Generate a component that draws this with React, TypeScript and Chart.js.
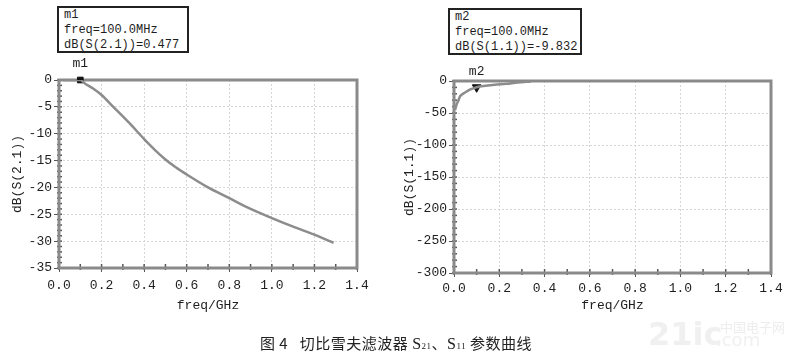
import React, { useEffect, useRef } from "react";
import { Chart, registerables } from "chart.js";
Chart.register(...registerables);

// ---- Data ----
const s21Freq = [0.02, 0.06, 0.1, 0.12, 0.16, 0.2, 0.255, 0.33, 0.4, 0.45, 0.5, 0.55, 0.6, 0.7, 0.8, 0.9, 1.0, 1.1, 1.2, 1.29];
const s21Db = [0, 0, 0, -0.6, -1.6, -2.8, -5, -8, -11, -13, -14.8, -16.3, -17.6, -20, -22, -24, -25.7, -27.3, -28.8, -30.3];

const s11Freq = [0.005, 0.012, 0.019, 0.026, 0.035, 0.049, 0.07, 0.1, 0.14, 0.18, 0.23, 0.28, 0.34];
const s11Db = [-45, -36, -31, -24.5, -21, -18, -13.5, -9.8, -7.5, -5.8, -4.5, -2.5, -0.8];

const m1Freq = 0.1;
const m1Db = 0;
const m2Freq = 0.1;
const m2Db = -9.832;

const xTicks = [0, 0.2, 0.4, 0.6, 0.8, 1.0, 1.2, 1.4];
const s21Ticks = [0, -5, -10, -15, -20, -25, -30, -35];
const s11Ticks = [0, -50, -100, -150, -200, -250, -300];

const m1Lines = ["m1", "freq=100.0MHz", "dB(S(2.1))=0.477"];
const m2Lines = ["m2", "freq=100.0MHz", "dB(S(1.1))=-9.832"];
const captionMain = "切比雪夫滤波器";

const MONO = '"Liberation Mono", "DejaVu Sans Mono", monospace';
const LINE = "#8c8c8c";
const FRAME = "#8a8a8a";
const GRID = "#d6d6d6";
const TEXT = "#1e1e1e";

type Cfg = {
  width: number;
  height: number;
  left: number;
  right: number;
  top: number;
  bottom: number;
  yMin: number;
  yTicks: number[];
  yMinor: number;
  yTitle: string;
  yTitlePad: number;
  xLabelPad: number;
  freq: number[];
  db: number[];
  markFreq: number;
  markDb: number;
  markLabel: string;
  markStyle: "rect" | "triangle";
};

function framePlugin(cfg: Cfg) {
  return {
    id: "frame" + cfg.markLabel,
    beforeDatasetsDraw(chart: any) {
      const { ctx, chartArea: a, scales } = chart;
      const xs = scales.x;
      const ys = scales.y;
      ctx.save();
      ctx.strokeStyle = "#555";
      ctx.lineWidth = 1.5;
      for (let v = 0; v <= 1.4001; v += 0.1) {
        const px = xs.getPixelForValue(v);
        ctx.beginPath();
        ctx.moveTo(px, a.bottom + 2);
        ctx.lineTo(px, a.bottom - 4);
        ctx.stroke();
      }
      for (let v = 0; v >= cfg.yMin - 0.001; v -= cfg.yMinor) {
        const py = ys.getPixelForValue(v);
        ctx.beginPath();
        ctx.moveTo(a.left - 2, py);
        ctx.lineTo(a.left + 3, py);
        ctx.stroke();
      }
      ctx.strokeStyle = FRAME;
      ctx.lineWidth = 3;
      ctx.strokeRect(a.left, a.top, a.right - a.left, a.bottom - a.top);
      ctx.restore();
    },
    afterDatasetsDraw(chart: any) {
      const { ctx, scales } = chart;
      const px = scales.x.getPixelForValue(cfg.markFreq);
      const py = scales.y.getPixelForValue(cfg.markDb);
      ctx.save();
      ctx.fillStyle = TEXT;
      ctx.font = "13px " + MONO;
      ctx.textAlign = "center";
      ctx.textBaseline = "middle";
      ctx.fillText(cfg.markLabel, px, py - 16);
      ctx.restore();
    },
  };
}

function SParamChart({ cfg }: { cfg: Cfg }) {
  const ref = useRef<HTMLCanvasElement | null>(null);
  useEffect(() => {
    if (!ref.current) return;
    const chart = new Chart(ref.current, {
      type: "line",
      data: {
        datasets: [
          {
            data: cfg.freq.map((f, i) => ({ x: f, y: cfg.db[i] })),
            borderColor: LINE,
            borderWidth: 2.5,
            pointRadius: 0,
            cubicInterpolationMode: "monotone",
          } as any,
          {
            data: [{ x: cfg.markFreq, y: cfg.markDb }],
            showLine: false,
            pointStyle: cfg.markStyle,
            rotation: cfg.markStyle === "triangle" ? 180 : 0,
            pointRadius: cfg.markStyle === "triangle" ? 5 : 4,
            backgroundColor: "#111",
            borderColor: "#111",
            borderWidth: 1,
            clip: false,
          } as any,
        ],
      },
      options: {
        responsive: false,
        animation: false,
        devicePixelRatio: 1,
        layout: {
          padding: { left: 0, top: cfg.top, right: cfg.width - cfg.right, bottom: 0 },
        },
        plugins: { legend: { display: false }, tooltip: { enabled: false } },
        scales: {
          x: {
            type: "linear",
            min: 0,
            max: 1.4,
            afterFit: (s: any) => {
              s.height = cfg.height - cfg.bottom;
            },
            afterBuildTicks: (s: any) => {
              s.ticks = xTicks.map((v) => ({ value: v }));
            },
            ticks: {
              callback: (v: any) => Number(v).toFixed(1),
              color: TEXT,
              font: { family: MONO, size: 13 },
              padding: cfg.xLabelPad,
              maxRotation: 0,
              autoSkip: false,
            },
            grid: { color: GRID, tickColor: "#555", tickLength: 4, lineWidth: 1 },
            border: { display: false, dash: [2, 2] },
            title: {
              display: true,
              text: "freq/GHz",
              color: TEXT,
              font: { family: MONO, size: 13 },
              padding: { top: 0, bottom: 47 },
            },
          },
          y: {
            type: "linear",
            min: cfg.yMin,
            max: 0,
            afterFit: (s: any) => {
              s.width = cfg.left;
            },
            afterBuildTicks: (s: any) => {
              s.ticks = cfg.yTicks.map((v) => ({ value: v }));
            },
            ticks: {
              color: TEXT,
              font: { family: MONO, size: 13 },
              padding: 2,
              autoSkip: false,
            },
            grid: { color: GRID, tickColor: "#555", tickLength: 5, lineWidth: 1 },
            border: { display: false, dash: [2, 2] },
            title: {
              display: true,
              text: cfg.yTitle,
              color: TEXT,
              font: { family: MONO, size: 13 },
              padding: { top: cfg.yTitlePad, bottom: 0 },
            },
          },
        },
      },
      plugins: [framePlugin(cfg)],
    } as any);
    return () => chart.destroy();
  }, []);
  return <canvas ref={ref} width={cfg.width} height={cfg.height} style={{ display: "block" }} />;
}

const leftCfg: Cfg = {
  width: 400,
  height: 360,
  left: 59,
  right: 357,
  top: 80,
  bottom: 268,
  yMin: -35,
  yTicks: s21Ticks,
  yMinor: 1,
  yTitle: "dB(S(2.1))",
  yTitlePad: 10,
  xLabelPad: 6,
  freq: s21Freq,
  db: s21Db,
  markFreq: m1Freq,
  markDb: m1Db,
  markLabel: "m1",
  markStyle: "rect",
};

const rightCfg: Cfg = {
  width: 397,
  height: 360,
  left: 54,
  right: 371,
  top: 81,
  bottom: 273,
  yMin: -300,
  yTicks: s11Ticks,
  yMinor: 10,
  yTitle: "dB(S(1.1))",
  yTitlePad: 2,
  xLabelPad: 4,
  freq: s11Freq,
  db: s11Db,
  markFreq: m2Freq,
  markDb: m2Db,
  markLabel: "m2",
  markStyle: "triangle",
};

function MarkerBox({ lines, left, top, width }: { lines: string[]; left: number; top: number; width: number }) {
  return (
    <div
      style={{
        position: "absolute",
        left,
        top,
        width,
        height: 47,
        boxSizing: "border-box",
        border: "2px solid #222",
        padding: "0 0 0 5px",
        fontFamily: MONO,
        fontSize: 12,
        lineHeight: "15px",
        color: TEXT,
        background: "#fff",
        whiteSpace: "pre",
      }}
    >
      {lines.map((l, i) => (
        <div key={i}>{l}</div>
      ))}
    </div>
  );
}

export default function App() {
  return (
    <div
      style={{
        position: "fixed",
        left: 0,
        top: 0,
        width: 797,
        height: 360,
        background: "#fff",
        overflow: "hidden",
      }}
    >
      <div style={{ position: "absolute", left: 0, top: 0 }}>
        <SParamChart cfg={leftCfg} />
      </div>
      <div style={{ position: "absolute", left: 400, top: 0 }}>
        <SParamChart cfg={rightCfg} />
      </div>
      <MarkerBox lines={m1Lines} left={57} top={6} width={132} />
      <MarkerBox lines={m2Lines} left={448} top={8} width={134} />
      <div
        style={{
          position: "absolute",
          left: 260,
          top: 334,
          fontFamily: '"Noto Sans CJK SC", sans-serif',
          fontSize: 15,
          lineHeight: "18px",
          color: "#222",
          whiteSpace: "pre",
          letterSpacing: 0.5,
        }}
      >
        {"图 4   " + captionMain + " "}
        <span style={{ fontFamily: '"Liberation Serif", serif', fontSize: 16 }}>S</span>
        <span style={{ fontFamily: '"Liberation Serif", serif', fontSize: 9 }}>21</span>
        {"、"}
        <span style={{ fontFamily: '"Liberation Serif", serif', fontSize: 16 }}>S</span>
        <span style={{ fontFamily: '"Liberation Serif", serif', fontSize: 9 }}>11</span>
        {" 参数曲线"}
      </div>
      <div
        style={{
          position: "absolute",
          left: 648,
          top: 316,
          fontFamily: '"DejaVu Sans", sans-serif',
          fontWeight: "bold",
          fontSize: 32,
          lineHeight: "36px",
          color: "#f0f0f0",
        }}
      >
        21ic
      </div>
      <div
        style={{
          position: "absolute",
          left: 720,
          top: 320,
          fontFamily: '"Noto Sans CJK SC", sans-serif',
          fontSize: 13,
          lineHeight: "14px",
          color: "#ededed",
        }}
      >
        中国电子网
      </div>
      <div
        style={{
          position: "absolute",
          left: 716,
          top: 330,
          fontFamily: '"DejaVu Sans", sans-serif',
          fontSize: 18,
          lineHeight: "20px",
          color: "#f0f0f0",
        }}
      >
        .com
      </div>
    </div>
  );
}
